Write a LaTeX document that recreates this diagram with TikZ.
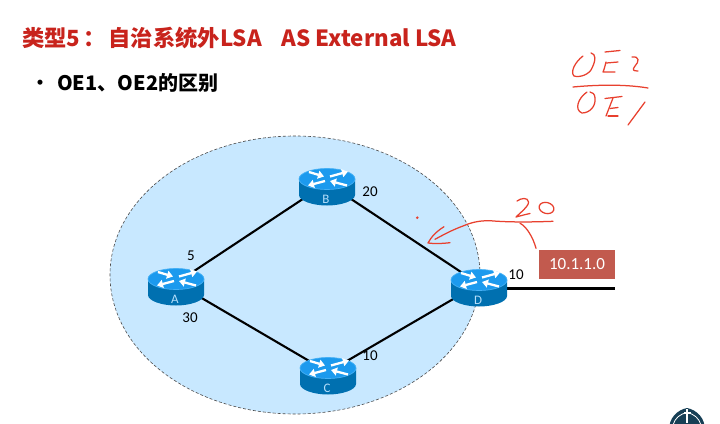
\documentclass[tikz,border=0pt]{standalone}
\usepackage{fontspec}
\setmainfont{Carlito}
\newfontfamily\cjkf{Noto Sans CJK SC}
\usetikzlibrary{arrows.meta}
\pgfdeclarelayer{bg}
\pgfsetlayers{bg,main}
\definecolor{areafill}{HTML}{C8E8FF}
\definecolor{routertop}{HTML}{1C9AEE}
\definecolor{routerrim}{HTML}{45B0F5}
\definecolor{routerside}{HTML}{0070B0}
\definecolor{titlered}{HTML}{C8231C}
\definecolor{boxred}{HTML}{C25A4E}
\definecolor{inkred}{HTML}{E8402E}
\definecolor{logodark}{HTML}{173F55}
\tikzset{
  wire/.style={line width=2.1pt,black,line cap=round},
  ink/.style={inkred,line width=1.25pt,line cap=round,line join=round},
  metric/.style={font=\fontsize{15}{16}\selectfont,text=black,inner sep=0pt},
  routerbody/.style={minimum width=56pt,minimum height=37pt,inner sep=0pt},
  routerletter/.style={font=\fontsize{13}{14}\selectfont,text=routerrim!40!white,inner sep=0pt},
  routerarrow/.style={white,line width=2.3pt,-{Triangle[length=6pt,width=8pt]}},
}
\newcommand{\routerbox}[4]{%
  \begin{scope}[shift={(#2,#3)}]
    \fill[routerside] (-28,-8) -- (-28,8) .. controls (-28,14) and (-14,18.5) .. (0,18.5)
       .. controls (14,18.5) and (28,14) .. (28,8) -- (28,-8) -- cycle;
    \fill[routertop,draw=routerrim,line width=.7pt] (0,-8) ellipse [x radius=28pt,y radius=10.5pt];
    \draw[routerarrow] (-18,-15) -- (-3,-10.5);
    \draw[routerarrow] (3,-10.5) -- (21,-15.5);
    \draw[routerarrow] (-2,-6) -- (-19,-1.5);
    \draw[routerarrow] (20,-1.5) -- (3,-6);
    \node[routerbody] (#1) at (0,-4) {};
    \node[routerletter] (#1l) at (-1,12) {#4};
  \end{scope}%
}
\begin{document}
\begin{tikzpicture}[x=1pt,y=-1pt]
\useasboundingbox (0,0) rectangle (720,423);
\begin{pgfonlayer}{bg}
  \fill[white] (0,0) rectangle (720,423);
  \draw[fill=areafill,draw=black!70,densely dashed,line width=.6pt] (295,275) ellipse [x radius=185pt,y radius=139pt];
\end{pgfonlayer}

\node[anchor=base west,inner sep=0pt,text=titlered,font=\cjkf\bfseries\fontsize{22.3}{25}\selectfont] (title) at (22,46) {类型5\hspace{3pt}：\hspace{3pt}自治系统外LSA\hspace{20pt}AS External LSA};
\node[anchor=base west,inner sep=0pt,font=\cjkf\bfseries\fontsize{18}{20}\selectfont] (bullet) at (31,89) {•};
\node[anchor=base west,inner sep=0pt,font=\cjkf\bfseries\fontsize{20}{22}\selectfont] (sub) at (57,90) {OE1、OE2的区别};

\routerbox{A}{176}{287}{A}
\routerbox{B}{327}{187}{B}
\routerbox{C}{328}{376}{C}
\routerbox{D}{479}{288}{D}
\coordinate (ext) at (615,288.5);

\begin{pgfonlayer}{bg}
  \draw[wire] (A.center) -- (B.center);
  \draw[wire] (A.center) -- (C.center);
  \draw[wire] (B.center) -- (D.center);
  \draw[wire] (C.center) -- (D.center);
  \draw[wire,line cap=butt] (D.center |- ext) -- (ext);
\end{pgfonlayer}

\node[metric] (m5) at (191,256) {5};
\node[metric] (m30) at (190,318) {30};
\node[metric] (m20) at (370,192) {20};
\node[metric] (m10c) at (370,356) {10};
\node[metric] (m10d) at (516,275) {10};

\node[fill=boxred,text=white,minimum width=76pt,minimum height=29pt,inner sep=0pt,font=\fontsize{17}{18}\selectfont] (net) at (577,264.5) {10.1.1.0};

% handwriting
\fill[inkred] (417.3,217.7) circle [radius=1.4pt];
\draw[ink] (517,201) .. controls (521,198) and (528,197) .. (528.5,202) .. controls (529,206) and (520,213) .. (516,217) .. controls (520,216) and (525,214.5) .. (530,213.5);
\draw[ink,rotate around={-15:(546.5,208)}] (546.5,208) ellipse [x radius=7.5pt,y radius=5.5pt];
\draw[ink] (553,221.3) .. controls (535,222) and (510,222.5) .. (490,220.7) .. controls (478,220.5) and (470,223) .. (463,226) .. controls (452,230) and (443,235) .. (435,239.3);
\draw[ink] (444,226.7) .. controls (437,231) and (431,237) .. (428,243) .. controls (435,244) and (443,243.5) .. (450,242.7);
\draw[ink] (520,223.3) .. controls (526,226) and (533,237) .. (536,248.3);
% OE2 / OE1
\draw[ink] (583,56) .. controls (575,62) and (570,72) .. (574,76) .. controls (580,78) and (590,74) .. (592,68) .. controls (596,60) and (596,54) .. (591,53);
\draw[ink] (605,52) -- (620,50.5);
\draw[ink] (606,62) .. controls (605,66) and (604,70) .. (603,72) -- (615,72);
\draw[ink] (606.5,63) -- (618,62);
\draw[ink] (632,57) .. controls (640,56) and (639,62) .. (635,66) .. controls (632,70) and (633,71) .. (638,71);
\draw[ink] (573,87) .. controls (605,84) and (630,85) .. (648,88);
\draw[ink] (587,92) .. controls (578,98) and (574,110) .. (582,113) .. controls (590,113) and (596,106) .. (595,98) .. controls (595,94) and (592,92) .. (590,92);
\draw[ink] (605,98.5) -- (622,96.5);
\draw[ink] (613,98) -- (606,116);
\draw[ink] (610,108.5) -- (618,107.5);
\draw[ink] (608,116) -- (618,116);
\draw[ink] (645,102) -- (628,125);

% logo, cut off by the lower edge
\begin{scope}
  \clip (0,0) rectangle (720,423);
  \fill[logodark] (687,408) .. controls (697,410) and (705,418) .. (705,430) -- (669,430) .. controls (669,418) and (677,410) .. (687,408) -- cycle;
  \draw[white,line width=.8pt] (673,425) .. controls (675,418) and (680,414) .. (687,412.5) .. controls (694,414) and (699,418) .. (701,425);
  \fill[white] (685.7,409) rectangle (688.3,423);
  \fill[white] (683.5,412) rectangle (690.5,413.5);
\end{scope}
\end{tikzpicture}
\end{document}
